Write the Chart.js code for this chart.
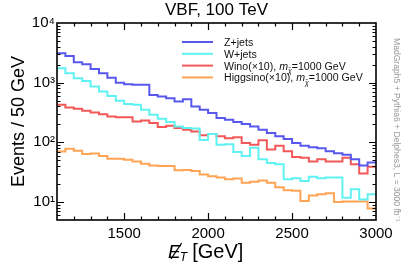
<!DOCTYPE html>
<html><head><meta charset="utf-8">
<script src="https://cdn.jsdelivr.net/npm/chart.js@4.4.0/dist/chart.umd.min.js"></script>
<style>html,body{margin:0;padding:0;background:#fff;overflow:hidden}#wrap{width:407px;height:262px;position:relative}</style>
</head><body><div id="wrap"><canvas id="c" width="407" height="262"></canvas></div>
<script>
// ---- data (bin low edges in GeV, events / 50 GeV) ----
const binLowEdges = [1100,1150,1200,1250,1300,1350,1400,1450,1500,1550,1600,1650,1700,1750,1800,1850,1900,1950,2000,2050,2100,2150,2200,2250,2300,2350,2400,2450,2500,2550,2600,2650,2700,2750,2800,2850,2900,2950];
const lastEdge = 3000;
const zJets    = [3100,2790,2190,2030,1690,1437,1215,1000,940,920,920,624,585,550,482,527,398,351,310,257,240,219,204,185,163,143,126,114,98,88,83,80,71,66,62,52,41,46];
const wJets    = [1740,1435,1187,1070,865,710,600,500,440,425,351,290,248,219,185,174,170,110,138,91,93,69,59,81,52,45,43,24,25,22.5,26.5,25,25.7,25.7,11.8,16.3,11,13.5];
const wino     = [427,385,365,337,316,297,271,264,264,224,233,211,180,190,174,163,152,132,138,126,117,122,98,91,108,76,88,71,57,55,48,52,48,48,55,43,30,39];
const higgsino = [70,78,72,64,65,59,53,53,51,48,44,41,40,40,34,34.5,33,29,27,25.7,24,24.8,21,21.8,23,21,17.7,15.7,15.4,10.4,12.9,13.5,14,10,10.2,10.2,10.2,7.8];
const seriesNames = ['Z+jets','W+jets','Wino(×10), m_{χ̃}=1000 GeV','Higgsino(×10), m_{χ̃}=1000 GeV'];
const xTickValues = [1500,2000,2500,3000];
const xTickLabels = ['1500','2000','2500','3000'];
const yTickValues = [10,100,1000,10000];
const yTickLabels = ['10¹','10²','10³','10⁴'];
const titleText = 'VBF, 100 TeV';
const yTitle = 'Events / 50 GeV';
const sideNote = 'MadGraph5 + Pythia6 + Delphes3, L = 3000 fb⁻¹';

const FONT = '"Liberation Sans", Arial, Helvetica, sans-serif';
Chart.defaults.font.family = FONT;
Chart.defaults.color = '#000';

function toSteps(vals){
  const pts = binLowEdges.map((x,i)=>({x, y: vals[i]}));
  pts.push({x: lastEdge, y: vals[vals.length-1]});
  return pts;
}
const colors = ['rgb(88,88,238)','rgb(96,242,242)','rgb(242,88,88)','rgb(255,164,84)'];
const allSeries = [zJets, wJets, wino, higgsino];
const datasets = allSeries.map((s,i)=>({
  label: seriesNames[i].replace(/m_\{(.*?)\}/,'m$1'),
  data: toSteps(s),
  borderColor: colors[i],
  borderWidth: 2,
  pointRadius: 0,
  stepped: true,
  fill: false,
  tension: 0
}));

function drawRich(ctx, text, x, y, size, measureOnly){
  const x0 = x;
  const parts = text.split(/(m_\{[^}]*\})/);
  for (const p of parts){
    if (!p) continue;
    const m = p.match(/^m_\{(.*)\}$/);
    if (m){
      ctx.font = `italic ${size}px ${FONT}`; if(!measureOnly) ctx.fillText('m', x, y); x += ctx.measureText('m').width;
      ctx.font = `italic ${(size*0.65).toFixed(1)}px ${FONT}`; if(!measureOnly) ctx.fillText(m[1], x, y + size*0.3); x += ctx.measureText('χ').width;
    } else {
      ctx.font = `${size}px ${FONT}`; if(!measureOnly) ctx.fillText(p, x, y); x += ctx.measureText(p).width;
    }
  }
  return x - x0;
}

const decor = {
  id: 'decor',
  afterDatasetsDraw(chart){
    const {ctx, chartArea: a, scales: {x, y}} = chart;
    ctx.save();
    // inward ticks on all four sides
    ctx.strokeStyle = '#000'; ctx.lineWidth = 1.2;
    ctx.beginPath();
    for (let v = 1200; v < 3000; v += 100){
      const px = Math.round(x.getPixelForValue(v)) + 0.5;
      const len = (v % 500 === 0) ? 7 : 3.5;
      ctx.moveTo(px, a.bottom); ctx.lineTo(px, a.bottom - len);
      ctx.moveTo(px, a.top); ctx.lineTo(px, a.top + len);
    }
    for (const d of [1,10,100,1000]){
      for (let k = 1; k <= 9; k++){
        const v = d*k;
        if (v <= 5 || v >= 10000) continue;
        const py = Math.round(y.getPixelForValue(v)) + 0.5;
        const len = (k === 1) ? 7 : 3.5;
        ctx.moveTo(a.left, py); ctx.lineTo(a.left + len, py);
        ctx.moveTo(a.right, py); ctx.lineTo(a.right - len, py);
      }
    }
    ctx.stroke();
    ctx.lineWidth = 1.6;
    ctx.strokeRect(a.left, a.top, a.right - a.left, a.bottom - a.top);

    // title
    ctx.fillStyle = '#000';
    ctx.font = `17px ${FONT}`;
    ctx.textAlign = 'center'; ctx.textBaseline = 'alphabetic';
    ctx.fillText(titleText, (a.left + a.right)/2, 15);
    ctx.textAlign = 'left';

    // legend (size fitted so the longest entry spans ~139 px)
    const wRef = drawRich(ctx, seriesNames[3], 0, 0, 10, true);
    const lsize = 10 * 139 / wRef;
    const lx0 = a.left + 125, lx1 = a.left + 156, tx = a.left + 167;
    ctx.fillStyle = '#111';
    chart.data.datasets.forEach((ds,i)=>{
      const yy = a.top + 19 + i*11.8;
      ctx.strokeStyle = ds.borderColor; ctx.lineWidth = 2;
      ctx.beginPath(); ctx.moveTo(lx0, yy); ctx.lineTo(lx1, yy); ctx.stroke();
      drawRich(ctx, seriesNames[i], tx, yy + 4, lsize);
    });

    // x-axis title: missing E_T [GeV]
    const bx = 168, by = 258;
    ctx.fillStyle = '#000';
    ctx.font = `italic 19px ${FONT}`;
    ctx.fillText('E', bx, by);
    const ew = ctx.measureText('E').width;
    ctx.strokeStyle = '#000'; ctx.lineWidth = 1.3;
    ctx.beginPath(); ctx.moveTo(bx + 3, by + 1); ctx.lineTo(bx + ew + 1, by - 15); ctx.stroke();
    ctx.font = `italic 12px ${FONT}`;
    ctx.fillText('T', bx + ew - 1, by + 3);
    ctx.font = `20px ${FONT}`;
    ctx.fillText(' [GeV]', bx + ew + 6, by);

    // side note (fitted to span ~184 px)
    ctx.save();
    ctx.font = `8px ${FONT}`;
    const sw = ctx.measureText(sideNote).width;
    const ss = 8 * 184 / sw;
    ctx.translate(396, 38);
    ctx.rotate(Math.PI/2);
    ctx.font = `${ss.toFixed(2)}px ${FONT}`;
    ctx.fillStyle = '#9a9a9a';
    ctx.textBaseline = 'middle';
    ctx.fillText(sideNote, 0, 0);
    ctx.restore();
    ctx.restore();
  }
};

new Chart(document.getElementById('c'), {
  type: 'line',
  data: { datasets },
  options: {
    responsive: false,
    animation: false,
    events: [],
    layout: { padding: { left: 0, right: 31, top: 23, bottom: 0 } },
    plugins: {
      legend: { display: false },
      tooltip: { enabled: false },
      title: { display: false }
    },
    scales: {
      x: {
        type: 'linear', min: 1100, max: 3000,
        grid: { display: false, drawTicks: false },
        border: { display: false },
        ticks: { font: { size: 15 }, padding: 5, maxRotation: 0, autoSkip: false, color: '#000',
          callback: (v) => { const i = xTickValues.indexOf(v); return i >= 0 ? xTickLabels[i] : ''; } },
        afterBuildTicks: (s) => { s.ticks = xTickValues.map(v => ({ value: v })); },
        afterFit: (s) => { s.height = 42; }
      },
      y: {
        type: 'logarithmic', min: 5, max: 10000,
        grid: { display: false, drawTicks: false },
        border: { display: false },
        ticks: { font: { size: 15 }, padding: 2, color: '#000',
          callback: (v) => { const i = yTickValues.indexOf(v); return i >= 0 ? yTickLabels[i] : ''; } },
        afterBuildTicks: (s) => { s.ticks = yTickValues.map(v => ({ value: v })); },
        afterFit: (s) => { s.width = 57; },
        title: { display: true, text: yTitle, font: { size: 18 }, color: '#000', padding: { top: 8, bottom: 0 } }
      }
    }
  },
  plugins: [decor]
});
</script></body></html>
